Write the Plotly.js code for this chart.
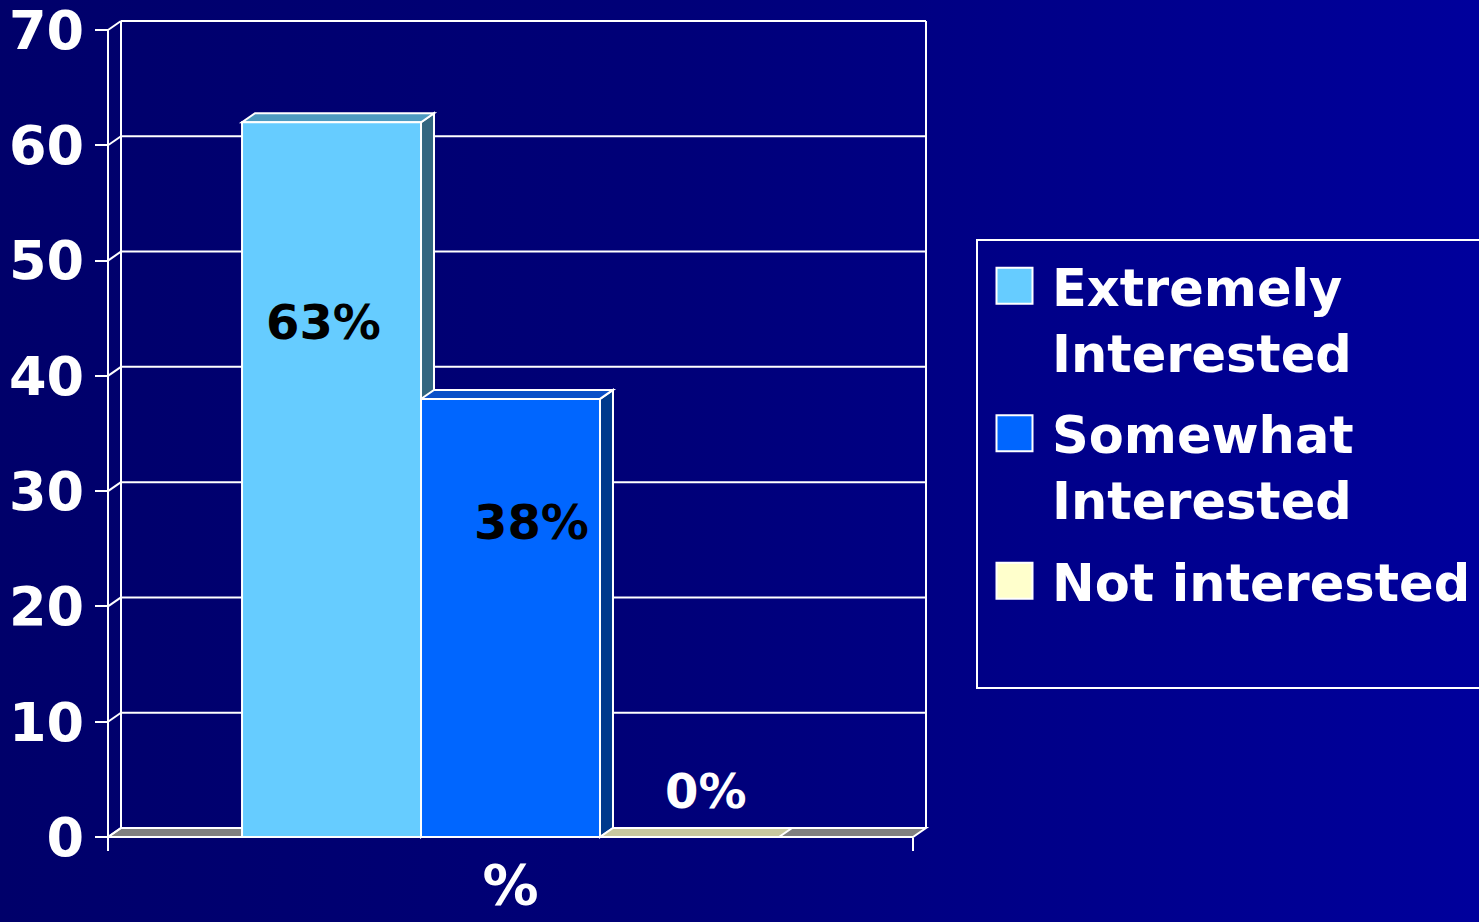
<!DOCTYPE html>
<html>
<head>
<meta charset="utf-8">
<script src="https://cdn.plot.ly/plotly-3.0.1.min.js"></script>
<style>
  html, body { margin: 0; padding: 0; width: 1479px; height: 922px; overflow: hidden;
    background: linear-gradient(to right, #00006a 0%, #000078 45%, #00009c 100%); }
  #chart { width: 1479px; height: 922px; }
</style>
</head>
<body>
<div id="chart"></div>
<script>
// ---- data ----
const category = ['%'];
const seriesNames = ['Extremely<br>Interested', 'Somewhat<br>Interested', 'Not interested'];
const seriesValues = [62, 38, 0];
const labelTexts = ['63%', '38%', '0%'];
const yTicks = [0, 10, 20, 30, 40, 50, 60, 70];

// ---- styles ----
const W = 1479, H = 922;
const frontColors = ['#66ccff', '#0066ff', '#ffffcc'];
const topColors = ['#4d9ac0', '#0a50c8', '#c8c8a0'];
const sideColors = ['#336680', '#003a8c', '#9a9a7a'];
const labelColors = ['#000000', '#000000', '#ffffff'];
const labelShiftPx = [-8, 21, 17];
const FONT = 'DejaVu Sans';
const frontL = 108, frontR = 913, frontTop = 30, frontBottom = 837;
const depthX = 13, depthY = 9;
const pad = 4;
const yMax = 70;
const bargap = 0.333;

const pxPerX = (frontR - frontL);                  // category axis: -0.5..0.5 spans frontL..frontR
const pxPerY = (frontBottom - frontTop) / yMax;
const dxData = depthX / pxPerX;
const dyData = depthY / pxPerY;
const padX = pad / pxPerX, padY = pad / pxPerY;

const traces = seriesValues.map((v, i) => ({
  type: 'bar',
  x: category,
  y: [v],
  name: seriesNames[i],
  legendgroup: 'g' + i,
  marker: { color: frontColors[i], line: { color: '#ffffff', width: 2 } },
  hoverinfo: 'name+y'
}));

// geometry of grouped bars on the category axis
const groupW = 1 - bargap;
const barW = groupW / seriesValues.length;
const barX0 = i => -groupW / 2 + i * barW;

const white = { color: '#ffffff', width: 2 };
const shapes = [];
const bx0 = -0.5 + dxData, bx1 = 0.5 + dxData;
// back wall: gridlines and frame
yTicks.forEach(t => {
  shapes.push({ type: 'line', xref: 'x', yref: 'y', layer: 'below',
    x0: bx0, x1: bx1, y0: t + dyData, y1: t + dyData, line: white });
});
shapes.push({ type: 'line', xref: 'x', yref: 'y', layer: 'below',
  x0: bx0, x1: bx0, y0: dyData, y1: yMax + dyData, line: white });
shapes.push({ type: 'line', xref: 'x', yref: 'y', layer: 'below',
  x0: bx1, x1: bx1, y0: dyData, y1: yMax + dyData, line: white });
// floor
shapes.push({
  type: 'path', xref: 'x', yref: 'y', layer: 'below',
  path: `M-0.5,0 L0.5,0 L${bx1},${dyData} L${bx0},${dyData} Z`,
  fillcolor: '#808080', line: white
});
// depth faces of bars
seriesValues.forEach((v, i) => {
  const x0 = barX0(i), x1 = x0 + barW;
  if (v > 0) {
    shapes.push({
      type: 'path', xref: 'x', yref: 'y', layer: 'below',
      path: `M${x1},0 L${x1},${v} L${x1 + dxData},${v + dyData} L${x1 + dxData},${dyData} Z`,
      fillcolor: sideColors[i], line: white
    });
  }
  shapes.push({
    type: 'path', xref: 'x', yref: 'y', layer: 'below',
    path: `M${x0},${v} L${x1},${v} L${x1 + dxData},${v + dyData} L${x0 + dxData},${v + dyData} Z`,
    fillcolor: topColors[i], line: white
  });
});
// tick connectors from front axis to back wall, and the front value axis line
yTicks.forEach(t => {
  shapes.push({ type: 'line', xref: 'x', yref: 'y', layer: 'below',
    x0: -0.5, y0: t, x1: bx0, y1: t + dyData, line: white });
});
shapes.push({ type: 'line', xref: 'x', yref: 'y', layer: 'below',
  x0: -0.5, x1: -0.5, y0: 0, y1: yMax, line: white });
// legend frame
shapes.push({
  type: 'rect', xref: 'paper', yref: 'paper',
  x0: 977 / W, x1: 1.02, y0: 1 - 688 / H, y1: 1 - 240 / H,
  line: white, fillcolor: 'rgba(0,0,0,0)'
});

const annotations = seriesValues.map((v, i) => ({
  xref: 'x', yref: 'y',
  x: barX0(i) + barW / 2,
  y: v > 0 ? v * 0.72 : 4,
  xshift: labelShiftPx[i],
  text: labelTexts[i],
  showarrow: false,
  font: { family: FONT, size: 48, weight: 'bold', color: labelColors[i] }
}));

const layout = {
  width: W, height: H,
  margin: { l: 0, r: 0, t: 0, b: 0, autoexpand: false },
  paper_bgcolor: 'rgba(0,0,0,0)',
  plot_bgcolor: 'rgba(0,0,0,0)',
  barmode: 'group', bargap: bargap, bargroupgap: 0,
  showlegend: true,
  xaxis: {
    domain: [(frontL - pad) / W, (frontR + depthX + pad) / W],
    anchor: 'free', position: 1 - frontBottom / H,
    type: 'category', range: [-0.5 - padX, 0.5 + dxData + padX], tickson: 'boundaries',
    ticks: 'outside', ticklen: 13, tickwidth: 2, tickcolor: '#ffffff',
    showline: false, showgrid: false, zeroline: false,
    tickfont: { family: FONT, size: 56, weight: 'bold', color: '#ffffff' },
    ticklabelstandoff: 10, ticklabeloverflow: 'allow', fixedrange: true
  },
  yaxis: {
    domain: [1 - (frontBottom + pad) / H, 1 - (frontTop - depthY - pad) / H],
    anchor: 'free', position: frontL / W,
    range: [-padY, yMax + dyData + padY], tickvals: yTicks, ticktext: yTicks.map(String),
    ticks: 'outside', ticklen: 13, tickwidth: 2, tickcolor: '#ffffff',
    showline: false, showgrid: false, zeroline: false,
    tickfont: { family: FONT, size: 54, weight: 'bold', color: '#ffffff' },
    ticklabelstandoff: 0, ticklabeloverflow: 'allow', fixedrange: true
  },
  legend: {
    x: 977 / W, xanchor: 'left', y: 1 - 246 / H, yanchor: 'top',
    bgcolor: 'rgba(0,0,0,0)', borderwidth: 0,
    font: { family: FONT, size: 51, weight: 'bold', color: '#ffffff' },
    itemwidth: 65, valign: 'top', traceorder: 'grouped', tracegroupgap: 12,
    itemclick: false, itemdoubleclick: false
  },
  shapes: shapes,
  annotations: annotations
};

Plotly.newPlot('chart', traces, layout, { displayModeBar: false, staticPlot: true }).then(gd => {
  gd.querySelectorAll('.legend .legendpoints path').forEach(p => {
    p.setAttribute('d', 'M18,18H-18V-18H18Z');
  });
});
</script>
</body>
</html>
